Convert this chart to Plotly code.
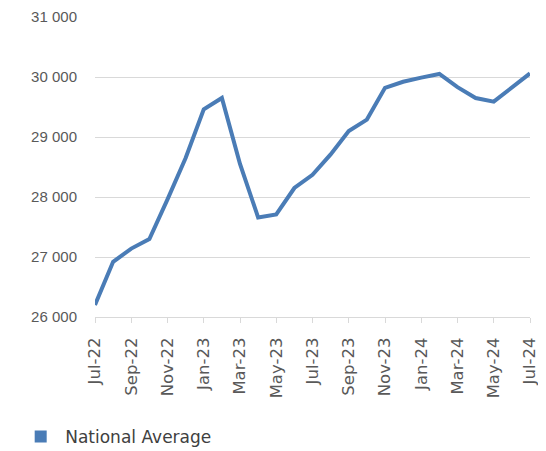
import plotly.graph_objects as go

months = ["Jul-22", "Aug-22", "Sep-22", "Oct-22", "Nov-22", "Dec-22",
          "Jan-23", "Feb-23", "Mar-23", "Apr-23", "May-23", "Jun-23",
          "Jul-23", "Aug-23", "Sep-23", "Oct-23", "Nov-23", "Dec-23",
          "Jan-24", "Feb-24", "Mar-24", "Apr-24", "May-24", "Jun-24", "Jul-24"]
national_average = [26200, 26920, 27140, 27300, 27960, 28650,
                    29460, 29650, 28550, 27660, 27710, 28150,
                    28370, 28710, 29100, 29290, 29820, 29920,
                    29990, 30050, 29830, 29650, 29590, 29820, 30060]
tick_labels = months[::2]
series_name = "National Average"

line_color = "#4A7CB6"
grid_color = "#D9D9D9"
text_color = "#595959"

fig = go.Figure()
fig.add_trace(go.Scatter(
    x=months, y=national_average, mode="lines",
    line=dict(color=line_color, width=4),
    showlegend=False, name=series_name,
))
fig.add_trace(go.Scatter(
    x=[None], y=[None], mode="markers", name=series_name,
    marker=dict(symbol="square", size=12, color=line_color),
    showlegend=True,
))

fig.update_layout(
    width=546, height=451,
    margin=dict(l=87, r=24, t=9, b=142, autoexpand=False),
    paper_bgcolor="white", plot_bgcolor="white",
    separators=". ",
    font=dict(family="Liberation Sans", color=text_color, size=15),
    legend=dict(
        orientation="h", xref="container", yref="container",
        x=0.015, y=0.049, xanchor="left", yanchor="middle",
        font=dict(size=17, color="#404040", family="DejaVu Sans"),
        itemwidth=39,
    ),
    xaxis=dict(
        type="category", range=[0, len(months) - 1], automargin=False,
        tickmode="array", tickvals=tick_labels, ticktext=tick_labels,
        tickangle=-90, showgrid=False,
        showline=True, linecolor=grid_color, linewidth=1,
        ticks="outside", ticklen=5, tickcolor=grid_color,
        ticklabelstandoff=8,
        tickfont=dict(size=16.5, color=text_color, family="DejaVu Sans"),
    ),
    yaxis=dict(
        range=[26000, 31000], dtick=1000, tickformat=",d", automargin=False,
        showgrid=True, gridcolor=grid_color, gridwidth=1,
        zeroline=False, showline=False,
        ticklabelstandoff=17,
        tickfont=dict(size=15, color=text_color, family="Liberation Sans"),
    ),
)

fig.write_html("out.html")
